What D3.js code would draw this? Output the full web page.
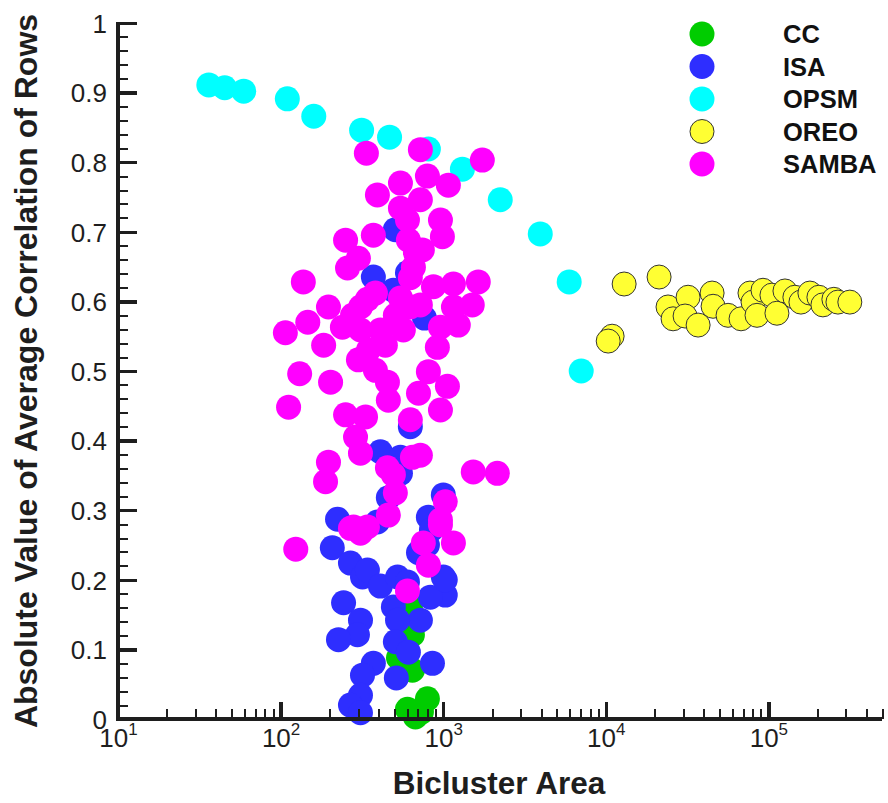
<!DOCTYPE html>
<html>
<head>
<meta charset="utf-8">
<script src="https://cdn.jsdelivr.net/npm/d3@7"></script>
<style>
  html, body { margin: 0; padding: 0; background: #fff; }
  svg { display: block; }
</style>
</head>
<body>
<svg id="chart" width="888" height="803"></svg>
<script>
// Series names and colours, in drawing (and legend) order
const seriesNames = ["CC", "ISA", "OPSM", "OREO", "SAMBA"];
const seriesColors = ["#00cc00", "#2e2eff", "#00ffff", "#ffff33", "#ff00ff"];

// Each point: [bicluster area, |average correlation of rows|]
const ccPoints = [
  [603, 0.014], [675, 0.003], [800, 0.029], [735, 0.010],
  [647, 0.070], [531, 0.088], [647, 0.121], [629, 0.161]
];

const isaPoints = [
  [508, 0.703], [372, 0.635], [603, 0.641], [494, 0.616], [767, 0.576],
  [628, 0.420], [411, 0.384], [546, 0.376], [546, 0.353], [460, 0.318],
  [394, 0.283], [224, 0.287], [1002, 0.322], [811, 0.290], [847, 0.272],
  [208, 0.246], [269, 0.224], [319, 0.204], [342, 0.214], [411, 0.191],
  [524, 0.204], [603, 0.197], [705, 0.239], [800, 0.250], [1002, 0.204],
  [1030, 0.178], [834, 0.175], [724, 0.142], [494, 0.161], [524, 0.142],
  [244, 0.167], [310, 0.142], [297, 0.121], [227, 0.114], [508, 0.111],
  [611, 0.096], [859, 0.080], [372, 0.080], [319, 0.063], [515, 0.059],
  [310, 0.034], [269, 0.020], [310, 0.009], [1030, 0.200]
];

const opsmPoints = [
  [36.2, 0.911], [45.3, 0.907], [59.3, 0.902], [110, 0.891], [160, 0.866],
  [315, 0.846], [468, 0.836], [811, 0.819], [1313, 0.790], [2244, 0.746],
  [3955, 0.697], [5957, 0.628], [7063, 0.500]
];

const oreoPoints = [
  [12970, 0.625], [21280, 0.635], [10940, 0.550], [10350, 0.543],
  [24150, 0.592], [25940, 0.575], [32070, 0.606], [30750, 0.579],
  [36980, 0.566], [45080, 0.612], [45710, 0.593], [56500, 0.580],
  [67920, 0.575], [77090, 0.612], [80490, 0.599], [85150, 0.580],
  [92690, 0.616], [105200, 0.609], [112900, 0.583], [126500, 0.615],
  [145600, 0.606], [158600, 0.599], [180100, 0.612], [204600, 0.606],
  [216500, 0.595], [252900, 0.603], [267900, 0.599], [317000, 0.599]
];

const sambaPoints = [
  [337, 0.813], [724, 0.818], [1741, 0.803], [1076, 0.767], [546, 0.770],
  [800, 0.780], [394, 0.753], [546, 0.734], [724, 0.746], [603, 0.717],
  [962, 0.717], [989, 0.693], [372, 0.695], [251, 0.688], [301, 0.662],
  [258, 0.648], [611, 0.688], [675, 0.670], [745, 0.674], [656, 0.649],
  [628, 0.634], [138, 0.628], [383, 0.612], [546, 0.605], [724, 0.595],
  [871, 0.621], [1156, 0.625], [1644, 0.628], [197, 0.592], [310, 0.592],
  [628, 0.592], [147, 0.570], [107, 0.555], [240, 0.563], [1156, 0.592],
  [962, 0.563], [1510, 0.595], [1239, 0.566], [184, 0.537], [310, 0.559],
  [411, 0.559], [569, 0.559], [921, 0.534], [301, 0.516], [347, 0.530],
  [383, 0.501], [454, 0.484], [460, 0.458], [811, 0.499], [1062, 0.478],
  [705, 0.468], [962, 0.444], [131, 0.496], [203, 0.484], [112, 0.448],
  [251, 0.437], [333, 0.434], [628, 0.430], [289, 0.405], [310, 0.382],
  [197, 0.369], [189, 0.341], [454, 0.361], [494, 0.351], [647, 0.376],
  [508, 0.325], [460, 0.293], [1030, 0.312], [962, 0.286], [1531, 0.355],
  [2153, 0.353], [281, 0.276], [342, 0.276], [124, 0.244], [310, 0.267],
  [269, 0.274], [755, 0.253], [962, 0.279], [1156, 0.253], [811, 0.221],
  [603, 0.184], [724, 0.379], [277, 0.580], [508, 0.580], [441, 0.537],
  [342, 0.603]
];

const seriesPoints = [ccPoints, isaPoints, opsmPoints, oreoPoints, sambaPoints];

// Axis ticks
const xMajorTicks = [10, 100, 1000, 10000, 100000];
const xExponents = ["1", "2", "3", "4", "5"];
const yMajorTicks = [0, 0.1, 0.2, 0.3, 0.4, 0.5, 0.6, 0.7, 0.8, 0.9, 1];
const yTickLabels = ["0", "0.1", "0.2", "0.3", "0.4", "0.5", "0.6", "0.7", "0.8", "0.9", "1"];

const xTitle = "Bicluster Area";
const yTitle = "Absolute Value of Average Correlation of Rows";

// ---- layout ----
const svg = d3.select("#chart");
const plotLeft = 118, plotRight = 882, plotTop = 23, plotBottom = 719;
const R = 12.5;
const axisColor = "#1e1e1e";
const font = "'Liberation Sans', Arial, Helvetica, sans-serif";

const x = d3.scaleLog().domain([10, 5e5]).range([plotLeft, plotRight]);
const y = d3.scaleLinear().domain([0, 1]).range([plotBottom, plotTop]);

// ---- points ----
const plot = svg.append("g");
seriesPoints.forEach((pts, i) => {
  plot.append("g")
    .selectAll("circle")
    .data(pts)
    .join("circle")
    .attr("cx", d => x(d[0]))
    .attr("cy", d => y(d[1]))
    .attr("r", seriesNames[i] === "OREO" ? R - 0.5 : R)
    .attr("fill", seriesColors[i])
    .attr("stroke", seriesNames[i] === "OREO" ? "#333" : "none")
    .attr("stroke-width", 1);
});

// ---- y axis ----
const yMinor = d3.range(0, 1.0001, 0.02).map(v => +v.toFixed(2));
const yMinorAxis = svg.append("g").attr("transform", `translate(${plotLeft},0)`)
  .call(d3.axisLeft(y).tickValues(yMinor).tickSize(-10).tickFormat(""));
yMinorAxis.select(".domain").remove();
yMinorAxis.selectAll("line").attr("stroke", axisColor).attr("stroke-width", 2)
  .attr("shape-rendering", "crispEdges");

const yMajorAxis = svg.append("g").attr("transform", `translate(${plotLeft},0)`)
  .call(d3.axisLeft(y).tickValues(yMajorTicks).tickSize(-19).tickPadding(11)
    .tickFormat((d, i) => yTickLabels[i]));
yMajorAxis.select(".domain").remove();
yMajorAxis.selectAll("line").attr("stroke", axisColor).attr("stroke-width", 3.5)
  .attr("shape-rendering", "crispEdges");
yMajorAxis.selectAll("text")
  .attr("font-family", font).attr("font-size", 26).attr("fill", axisColor)
  .attr("dy", "0.36em");

// ---- x axis ----
const xMinor = [];
for (let e = 1; e <= 5; e++) {
  for (let k = 2; k <= 9; k++) {
    const v = k * Math.pow(10, e);
    if (v <= 5e5) xMinor.push(v);
  }
}
const xMinorAxis = svg.append("g").attr("transform", `translate(0,${plotBottom})`)
  .call(d3.axisBottom(x).tickValues(xMinor).tickSize(-10).tickFormat(""));
xMinorAxis.select(".domain").remove();
xMinorAxis.selectAll("line").attr("stroke", axisColor).attr("stroke-width", 2)
  .attr("shape-rendering", "crispEdges");

const xMajorAxis = svg.append("g").attr("transform", `translate(0,${plotBottom})`)
  .call(d3.axisBottom(x).tickValues(xMajorTicks).tickSize(-17).tickFormat(""));
xMajorAxis.select(".domain").remove();
xMajorAxis.selectAll("line").attr("stroke", axisColor).attr("stroke-width", 3.5)
  .attr("shape-rendering", "crispEdges");
xMajorAxis.selectAll(".tick").each(function (d, i) {
  const t = d3.select(this).append("text")
    .attr("y", 28).attr("text-anchor", "middle")
    .attr("font-family", font).attr("fill", axisColor);
  t.append("tspan").attr("font-size", 26).text("10");
  t.append("tspan").attr("font-size", 17).attr("dy", -12).text(xExponents[i]);
});

// axis lines
svg.append("line").attr("x1", plotLeft).attr("x2", plotLeft)
  .attr("y1", plotBottom + 1.8).attr("y2", plotTop - 1)
  .attr("stroke", axisColor).attr("stroke-width", 3.5)
  .attr("shape-rendering", "crispEdges");
svg.append("line").attr("x1", plotLeft - 1.8).attr("x2", plotRight)
  .attr("y1", plotBottom).attr("y2", plotBottom)
  .attr("stroke", axisColor).attr("stroke-width", 3.5)
  .attr("shape-rendering", "crispEdges");

// ---- titles ----
svg.append("text")
  .attr("x", 499).attr("y", 794).attr("text-anchor", "middle")
  .attr("font-family", font).attr("font-weight", "bold").attr("font-size", 31.5)
  .attr("fill", axisColor).text(xTitle);
svg.append("text")
  .attr("transform", "translate(37,371) rotate(-90)").attr("text-anchor", "middle")
  .attr("font-family", font).attr("font-weight", "bold").attr("font-size", 32)
  .attr("fill", axisColor).text(yTitle);

// ---- legend ----
const legend = svg.append("g");
seriesNames.forEach((name, i) => {
  const cy = 34 + i * 32.5;
  legend.append("circle").attr("cx", 702).attr("cy", cy)
    .attr("r", name === "OREO" ? R - 0.5 : R)
    .attr("fill", seriesColors[i])
    .attr("stroke", name === "OREO" ? "#333" : "none").attr("stroke-width", 1);
  legend.append("text").attr("x", 783).attr("y", cy + 9)
    .attr("font-family", font).attr("font-weight", "bold").attr("font-size", 25.5)
    .attr("fill", "#111").text(name);
});
</script>
</body>
</html>
